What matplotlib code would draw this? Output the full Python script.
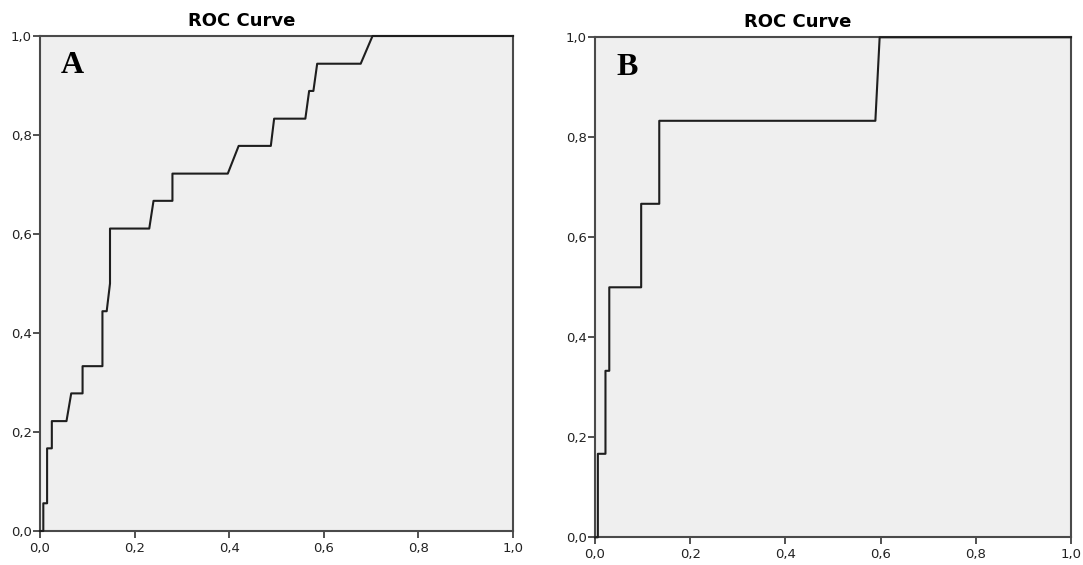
import numpy as np
import matplotlib.pyplot as plt
from matplotlib.ticker import FuncFormatter

# ROC curve A (1 - specificity, sensitivity)
fpr_a = [0, 0.007, 0.007, 0.015, 0.015, 0.025, 0.025, 0.056, 0.066, 0.090, 0.090,
         0.132, 0.132, 0.141, 0.148, 0.148, 0.231, 0.240, 0.280, 0.280, 0.397,
         0.420, 0.488, 0.495, 0.561, 0.569, 0.578, 0.586, 0.678, 0.703, 1.0]
tpr_a = [0, 0, 0.056, 0.056, 0.167, 0.167, 0.222, 0.222, 0.278, 0.278, 0.333,
         0.333, 0.444, 0.444, 0.500, 0.611, 0.611, 0.667, 0.667, 0.722, 0.722,
         0.778, 0.778, 0.833, 0.833, 0.889, 0.889, 0.944, 0.944, 1.0, 1.0]

# ROC curve B
fpr_b = [0, 0.006, 0.006, 0.022, 0.022, 0.030, 0.030, 0.097, 0.097, 0.135, 0.135,
         0.589, 0.598, 1.0]
tpr_b = [0, 0, 0.167, 0.167, 0.333, 0.333, 0.500, 0.500, 0.667, 0.667, 0.833,
         0.833, 1.0, 1.0]

ticks = [0.0, 0.2, 0.4, 0.6, 0.8, 1.0]
panel_labels = ["A", "B"]
title = "ROC Curve"

W, H = 1083, 565
fig = plt.figure(figsize=(W / 100, H / 100), dpi=100)

# axes boxes in pixels: left, right, top, bottom, title centre x
boxes = [(40, 513, 36, 531, 242), (595, 1071, 37.3, 537.3, 798)]

comma = FuncFormatter(lambda v, pos: ("%.1f" % v).replace(".", ","))

for (l, r, t, b, tx), fpr, tpr, lab in zip(boxes, [fpr_a, fpr_b], [tpr_a, tpr_b], panel_labels):
    ax = fig.add_axes([l / W, (H - b) / H, (r - l) / W, (b - t) / H])
    ax.set_facecolor("#efefef")
    ax.plot(fpr, tpr, color="#1e1e1e", lw=1.5, clip_on=False, zorder=3)
    ax.set_xlim(0, 1)
    ax.set_ylim(0, 1)
    ax.set_xticks(ticks)
    ax.set_yticks(ticks)
    ax.xaxis.set_major_formatter(comma)
    ax.yaxis.set_major_formatter(comma)
    ax.tick_params(length=5, width=1.2, color="#333333", labelsize=9.5, pad=1,
                   labelcolor="#222222")
    ax.tick_params(axis="x", pad=3)
    for s in ax.spines.values():
        s.set_color("#4a4a4a")
        s.set_linewidth(1.5)
    fig.text(tx / W, (H - t + 10) / H, title, ha="center", va="baseline",
             fontsize=13, fontweight="bold", family="DejaVu Sans")
    ax.text(0.068, 0.94, lab, transform=ax.transAxes, ha="center", va="center",
            fontsize=23, fontweight="bold", family="Liberation Serif")

fig.savefig("out.png", dpi=100)
